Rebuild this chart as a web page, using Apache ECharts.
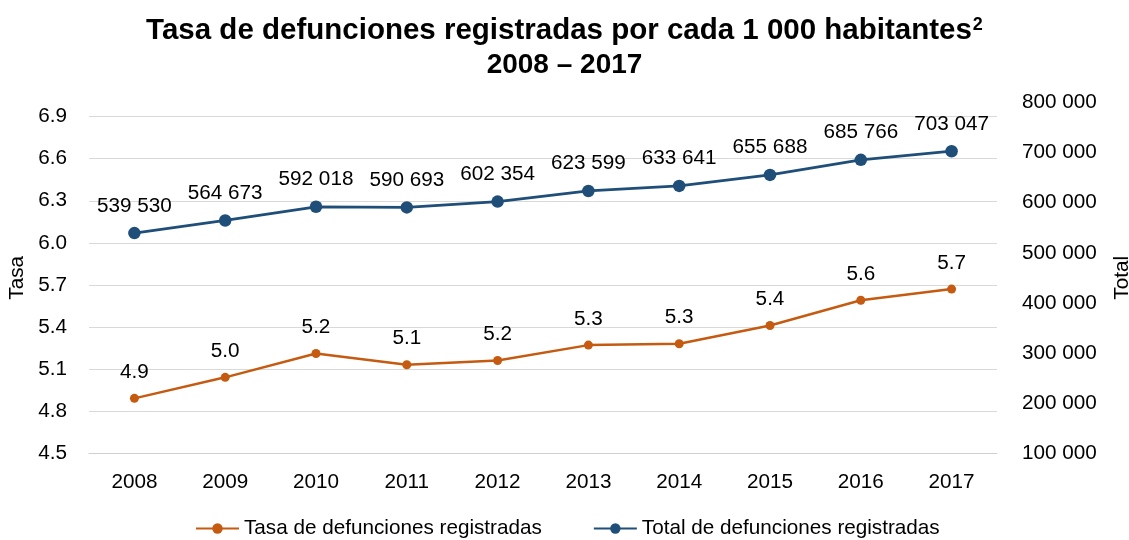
<!DOCTYPE html>
<html>
<head>
<meta charset="utf-8">
<script src="https://cdn.jsdelivr.net/npm/echarts@6/dist/echarts.min.js"></script>
<style>html,body{margin:0;padding:0;background:#fff}#c{width:1129px;height:540px}</style>
</head>
<body>
<div id="c"></div>
<script>
const years = ['2008','2009','2010','2011','2012','2013','2014','2015','2016','2017'];
const tasa = [4.89, 5.04, 5.21, 5.13, 5.16, 5.27, 5.28, 5.41, 5.59, 5.67];
const total = [539530, 564673, 592018, 590693, 602354, 623599, 633641, 655688, 685766, 703047];
const titleLine1 = 'Tasa de defunciones registradas por cada 1 000 habitantes';
const titleSup = '2';
const titleLine2 = '2008 – 2017';
const seriesNames = ['Tasa de defunciones registradas', 'Total de defunciones registradas'];
const axisNames = ['Tasa', 'Total'];

const FONT = 'Liberation Sans';
const FS = 20.7;
const ORANGE = '#C55A11';
const BLUE = '#1F4E79';
const fmt = n => String(Math.round(n)).replace(/\B(?=(\d{3})+(?!\d))/g, ' ');

const chart = echarts.init(document.getElementById('c'), null, {renderer: 'canvas'});
chart.setOption({
  animation: false,
  backgroundColor: '#fff',
  textStyle: {fontFamily: FONT, color: '#000'},
  title: {
    text: '{a|' + titleLine1 + '}{s|' + titleSup + '}\n{b|' + titleLine2 + '}',
    left: 'center',
    top: 8,
    textStyle: {
      fontFamily: FONT, fontWeight: 'bold', fontSize: 28, lineHeight: 35, color: '#000',
      rich: {
        a: {fontFamily: FONT, fontWeight: 'bold', fontSize: 29.5, lineHeight: 35, color: '#000'},
        s: {fontFamily: FONT, fontWeight: 'bold', fontSize: 18, lineHeight: 35, color: '#000', verticalAlign: 'top', padding: [3, 0, 0, 1]},
        b: {fontFamily: FONT, fontWeight: 'bold', fontSize: 28, lineHeight: 35, color: '#000'}
      }
    }
  },
  legend: {
    top: 513,
    left: 190,
    itemWidth: 43,
    itemHeight: 13,
    itemGap: 51,
    textStyle: {fontFamily: FONT, fontSize: FS, color: '#000'},
    data: seriesNames
  },
  grid: {left: 89, right: 132, top: 102.7, bottom: 87, containLabel: false, outerBoundsMode: 'none'},
  xAxis: {
    type: 'category',
    data: years,
    boundaryGap: true,
    axisLine: {lineStyle: {color: '#d0d0d0', width: 1}},
    axisTick: {show: false},
    axisLabel: {fontFamily: FONT, fontSize: FS, color: '#000', margin: 19}
  },
  yAxis: [
    {
      type: 'value',
      position: 'left',
      min: 4.5, max: 7.0, interval: 0.3,
      name: axisNames[0],
      nameLocation: 'middle',
      nameGap: 55,
      nameTextStyle: {fontFamily: FONT, fontSize: FS, color: '#000'},
      axisLine: {show: false},
      axisTick: {show: false},
      axisLabel: {fontFamily: FONT, fontSize: FS, color: '#000', margin: 22, showMaxLabel: false,
        formatter: v => v.toFixed(1)},
      splitLine: {show: true, showMaxLine: false, lineStyle: {color: '#d9d9d9', width: 1}}
    },
    {
      type: 'value',
      position: 'right',
      min: 100000, max: 800000, interval: 100000,
      name: axisNames[1],
      nameLocation: 'middle',
      nameGap: 115,
      nameTextStyle: {fontFamily: FONT, fontSize: FS, color: '#000'},
      axisLine: {show: false},
      axisTick: {show: false},
      axisLabel: {fontFamily: FONT, fontSize: FS, color: '#000', margin: 25, formatter: v => fmt(v)},
      splitLine: {show: false}
    }
  ],
  series: [
    {
      name: seriesNames[0],
      type: 'line',
      yAxisIndex: 0,
      data: tasa,
      symbol: 'circle',
      symbolSize: 9,
      lineStyle: {color: ORANGE, width: 2.5},
      itemStyle: {color: ORANGE},
      label: {show: true, position: 'top', distance: 11, fontFamily: FONT, fontSize: FS, color: '#000',
        formatter: p => p.value.toFixed(1)}
    },
    {
      name: seriesNames[1],
      type: 'line',
      yAxisIndex: 1,
      data: total,
      symbol: 'circle',
      symbolSize: 12.5,
      lineStyle: {color: BLUE, width: 2.75},
      itemStyle: {color: BLUE},
      label: {show: true, position: 'top', distance: 10.5, fontFamily: FONT, fontSize: FS, color: '#000',
        formatter: p => fmt(p.value)}
    }
  ]
});
</script>
</body>
</html>
